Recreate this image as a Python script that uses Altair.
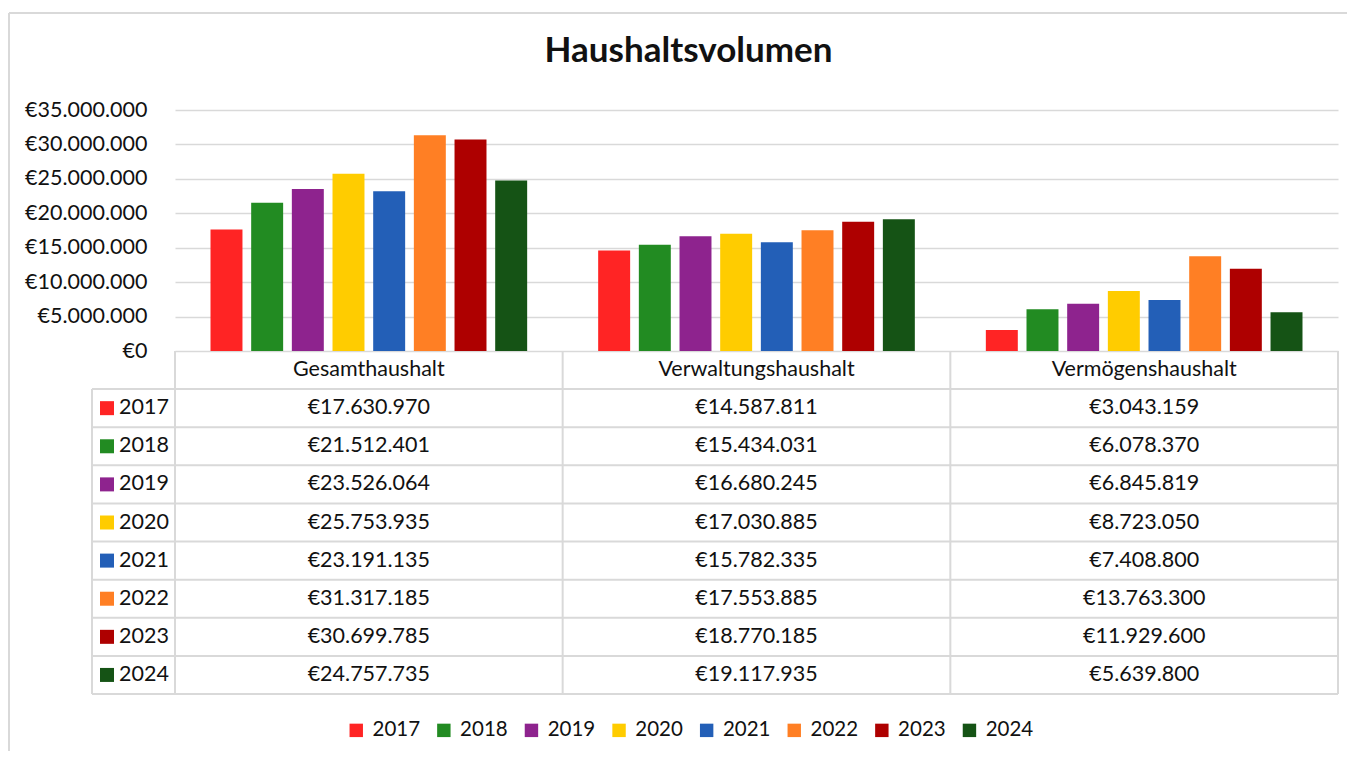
import altair as alt
import pandas as pd

categories = ["Gesamthaushalt", "Verwaltungshaushalt", "Vermögenshaushalt"]
years = ["2017", "2018", "2019", "2020", "2021", "2022", "2023", "2024"]
colors = ["#FF2424", "#228B22", "#8E238E", "#FFCC00", "#235FB7", "#FF7F24", "#AE0000", "#155315"]

gesamt = [17630970, 21512401, 23526064, 25753935, 23191135, 31317185, 30699785, 24757735]
verwaltung = [14587811, 15434031, 16680245, 17030885, 15782335, 17553885, 18770185, 19117935]
vermoegen = [3043159, 6078370, 6845819, 8723050, 7408800, 13763300, 11929600, 5639800]
y_ticks = [0, 5000000, 10000000, 15000000, 20000000, 25000000, 30000000, 35000000]

FONT = "Lato"
GRID = "#D9D9D9"
TXT = "#111111"
FS = 21.5
W = 1163
H_TOP = 241
H_TAB = 343

rows = []
for cat, vals in zip(categories, [gesamt, verwaltung, vermoegen]):
    for yr, v in zip(years, vals):
        rows.append({"cat": cat, "year": yr, "row": yr, "value": v,
                     "label": "€" + f"{v:,}".replace(",", ".")})
df = pd.DataFrame(rows)

header_df = pd.DataFrame({"cat": categories, "row": ["H"] * 3})
year_df = pd.DataFrame({"row": years, "year": years})
last_df = pd.DataFrame({"row": [years[-1]]})
first_df = pd.DataFrame({"row": [years[0]]})
cat_df = pd.DataFrame({"cat": categories})
lastcat_df = pd.DataFrame({"cat": [categories[-1]]})

x_scale = alt.Scale(domain=categories, paddingInner=0, paddingOuter=0)
color_scale = alt.Scale(domain=years, range=colors)
row_scale = alt.Scale(domain=["H"] + years, paddingInner=0, paddingOuter=0)

legend = alt.Legend(
    orient="none", legendX=171, legendY=610, direction="horizontal", columns=8,
    title=None, symbolType="square", symbolSize=180, symbolStrokeWidth=0,
    labelFont=FONT, labelFontSize=20.5, labelColor=TXT, labelOffset=6,
    columnPadding=12.6,
)

bars = alt.Chart(df).mark_bar().encode(
    x=alt.X("cat:N", scale=x_scale, axis=None, sort=categories),
    xOffset=alt.XOffset("year:N", scale=alt.Scale(domain=years, paddingInner=0.214, paddingOuter=0.873)),
    y=alt.Y("value:Q", scale=alt.Scale(domain=[0, 35000000], nice=False),
            axis=alt.Axis(values=y_ticks, title=None, domain=False, ticks=False,
                          labelExpr="'€' + replace(format(datum.value, ','), /,/g, '.')",
                          labelPadding=28, labelFont=FONT, labelFontSize=FS, labelColor=TXT,
                          gridColor=GRID, gridWidth=1.5)),
    color=alt.Color("year:N", scale=color_scale, legend=legend),
).properties(
    width=W, height=H_TOP,
    title=alt.TitleParams("Haushaltsvolumen", font=FONT, fontSize=35, fontWeight="bold",
                          color=TXT, anchor="middle", frame="group", dx=-68, offset=30),
)

base_x = alt.X("cat:N", scale=x_scale, axis=None)

header_text = alt.Chart(header_df).mark_text(font=FONT, fontSize=FS, color=TXT).encode(
    x=base_x, y=alt.Y("row:N", scale=row_scale, axis=None), text="cat:N")

value_text = alt.Chart(df).mark_text(font=FONT, fontSize=FS, color=TXT).encode(
    x=base_x, y=alt.Y("row:N", scale=row_scale, axis=None), text="label:N")

h_lines = alt.Chart(year_df).mark_rule(color=GRID, strokeWidth=2).encode(
    y=alt.Y("row:N", scale=row_scale, axis=None, bandPosition=0),
    x=alt.value(-83), x2=alt.value(W))

bottom_line = alt.Chart(last_df).mark_rule(color=GRID, strokeWidth=2).encode(
    y=alt.Y("row:N", scale=row_scale, axis=None, bandPosition=1),
    x=alt.value(-83), x2=alt.value(W))

v_lines = alt.Chart(cat_df).mark_rule(color=GRID, strokeWidth=2).encode(
    x=alt.X("cat:N", scale=x_scale, axis=None, bandPosition=0),
    y=alt.value(0), y2=alt.value(H_TAB))

right_line = alt.Chart(lastcat_df).mark_rule(color=GRID, strokeWidth=2).encode(
    x=alt.X("cat:N", scale=x_scale, axis=None, bandPosition=1),
    y=alt.value(0), y2=alt.value(H_TAB))

left_line = alt.Chart(first_df).mark_rule(color=GRID, strokeWidth=2).encode(
    y=alt.Y("row:N", scale=row_scale, axis=None, bandPosition=0),
    y2=alt.value(H_TAB), x=alt.value(-83))

swatches = alt.Chart(year_df).mark_square(size=196, opacity=1).encode(
    x=alt.value(-68), y=alt.Y("row:N", scale=row_scale, axis=None),
    color=alt.Color("year:N", scale=color_scale, legend=legend))

year_text = alt.Chart(year_df).mark_text(font=FONT, fontSize=FS, color=TXT, align="left").encode(
    x=alt.value(-56), y=alt.Y("row:N", scale=row_scale, axis=None), text="year:N")

frame_top = alt.Chart(first_df).mark_rule(color=GRID, strokeWidth=2).encode(
    x=alt.value(-166), x2=alt.value(1172), y=alt.value(-338))
frame_left = alt.Chart(first_df).mark_rule(color=GRID, strokeWidth=2).encode(
    x=alt.value(-166), y=alt.value(-338), y2=alt.value(400))

table = alt.layer(
    h_lines, bottom_line, v_lines, right_line, left_line,
    header_text, value_text, swatches, year_text, frame_top, frame_left,
).properties(width=W, height=H_TAB)

chart = alt.vconcat(bars, table, spacing=0, bounds="flush").properties(
    padding={"left": 0, "top": 4, "right": 0, "bottom": 0},
    background="white",
).configure_view(stroke=None, strokeWidth=0)

chart.save("out.html", embed_options={"renderer": "svg", "actions": False})
